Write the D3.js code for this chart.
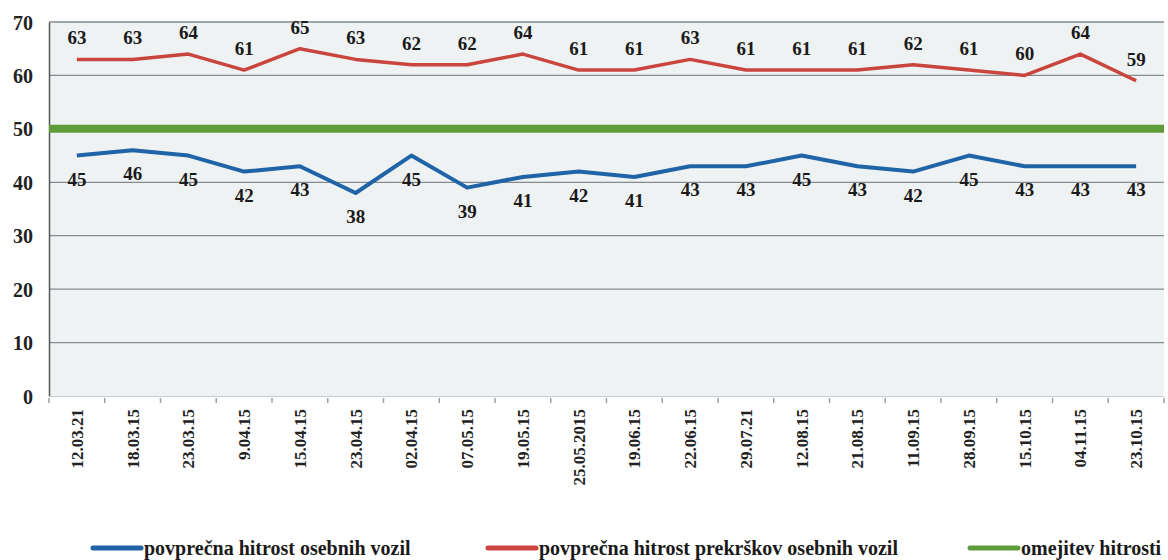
<!DOCTYPE html>
<html>
<head>
<meta charset="utf-8">
<script src="https://cdn.jsdelivr.net/npm/d3@7"></script>
<style>
  body { margin: 0; background: #fff; }
  svg { display: block; font-family: "Liberation Serif", "DejaVu Serif", serif; }
</style>
</head>
<body>
<svg id="chart"></svg>
<script>
// data
const dates = ["12.03.21", "18.03.15", "23.03.15", "9.04.15", "15.04.15", "23.04.15", "02.04.15",
  "07.05.15", "19.05.15", "25.05.2015", "19.06.15", "22.06.15", "29.07.21", "12.08.15",
  "21.08.15", "11.09.15", "28.09.15", "15.10.15", "04.11.15", "23.10.15"];
const avgSpeed = [45, 46, 45, 42, 43, 38, 45, 39, 41, 42, 41, 43, 43, 45, 43, 42, 45, 43, 43, 43];
const avgOffence = [63, 63, 64, 61, 65, 63, 62, 62, 64, 61, 61, 63, 61, 61, 61, 62, 61, 60, 64, 59];
const speedLimit = dates.map(() => 50);
const yTicks = [0, 10, 20, 30, 40, 50, 60, 70];
const seriesNames = ["povprečna hitrost osebnih vozil", "povprečna hitrost prekrškov osebnih vozil", "omejitev hitrosti"];

/***********************
 * dimensions
 ************************/
let dimensions = {
  width: 1168,
  height: 560,
  margin: { top: 22, right: 4, bottom: 164, left: 49 },
};
dimensions.boundedWidth = dimensions.width - dimensions.margin.left - dimensions.margin.right;
dimensions.boundedHeight = dimensions.height - dimensions.margin.top - dimensions.margin.bottom;

const svg = d3.select("#chart")
  .attr("width", dimensions.width)
  .attr("height", dimensions.height);

const bounds = svg.append("g")
  .attr("transform", `translate(${dimensions.margin.left},${dimensions.margin.top})`);

/***********************
 * scales
 ************************/
const x = d3.scaleBand().domain(dates).range([0, dimensions.boundedWidth]);
const y = d3.scaleLinear().domain([0, 70]).range([dimensions.boundedHeight, 0]);
const cx = (d) => x(d) + x.bandwidth() / 2;

// plot background (scanned, slightly tinted)
bounds.append("rect")
  .attr("width", dimensions.boundedWidth)
  .attr("height", dimensions.boundedHeight)
  .attr("fill", "#eff2f3");

// gridlines
bounds.append("g")
  .selectAll("line")
  .data(yTicks.filter((d) => d > 0))
  .join("line")
  .attr("x1", 0)
  .attr("x2", dimensions.boundedWidth)
  .attr("y1", (d) => y(d))
  .attr("y2", (d) => y(d))
  .attr("stroke", "#868b90")
  .attr("stroke-width", 1.3);

// y axis
const yAxis = bounds.append("g")
  .call(d3.axisLeft(y).tickValues(yTicks).tickSize(0).tickPadding(16));
yAxis.select(".domain").attr("stroke", "#555").attr("stroke-width", 1.5);
yAxis.selectAll("text")
  .attr("font-family", "Liberation Serif")
  .attr("font-weight", "bold")
  .attr("font-size", 20)
  .attr("fill", "#222")
  .attr("dy", "0.35em");

// x axis
const xAxis = bounds.append("g")
  .attr("transform", `translate(0,${dimensions.boundedHeight})`)
  .call(d3.axisBottom(x).tickSize(0).tickPadding(14));
xAxis.select(".domain").attr("stroke", "#c8ccd0").attr("stroke-width", 1);
xAxis.selectAll("text")
  .attr("font-family", "Liberation Serif")
  .attr("font-weight", "bold")
  .attr("font-size", 17)
  .attr("fill", "#222")
  .attr("transform", "rotate(-90)")
  .attr("text-anchor", "end")
  .attr("x", -13)
  .attr("y", 0)
  .attr("dy", "0.35em");

// small tick marks between categories
bounds.append("g")
  .selectAll("line")
  .data(d3.range(dates.length + 1))
  .join("line")
  .attr("x1", (i) => i * x.step())
  .attr("x2", (i) => i * x.step())
  .attr("y1", dimensions.boundedHeight + 2)
  .attr("y2", dimensions.boundedHeight + 7)
  .attr("stroke", "#9aa0a6")
  .attr("stroke-width", 1.5);

/***********************
 * lines
 ************************/
const colors = ["#1f64a6", "#c9453d", "#5f9c3a"];
const lineGen = d3.line().x((d, i) => cx(dates[i])).y((d) => y(d));

// speed limit spans the whole plot width
bounds.append("line")
  .attr("x1", 0)
  .attr("x2", dimensions.boundedWidth)
  .attr("y1", y(speedLimit[0]))
  .attr("y2", y(speedLimit[speedLimit.length - 1]))
  .attr("stroke", colors[2])
  .attr("stroke-width", 8);

bounds.append("path")
  .datum(avgOffence)
  .attr("d", lineGen)
  .attr("fill", "none")
  .attr("stroke", colors[1])
  .attr("stroke-width", 3.5)
  .attr("stroke-linejoin", "round");

bounds.append("path")
  .datum(avgSpeed)
  .attr("d", lineGen)
  .attr("fill", "none")
  .attr("stroke", colors[0])
  .attr("stroke-width", 4)
  .attr("stroke-linejoin", "round");

// data labels
const labelStyle = (sel) => sel
  .attr("font-family", "Liberation Serif")
  .attr("font-weight", "bold")
  .attr("font-size", 19)
  .attr("fill", "#1a1a1a")
  .attr("text-anchor", "middle");

bounds.append("g")
  .selectAll("text")
  .data(avgOffence)
  .join("text")
  .attr("x", (d, i) => cx(dates[i]))
  .attr("y", (d) => y(d) - 15)
  .text((d) => d)
  .call(labelStyle);

bounds.append("g")
  .selectAll("text")
  .data(avgSpeed)
  .join("text")
  .attr("x", (d, i) => cx(dates[i]))
  .attr("y", (d) => y(d) + 30)
  .text((d) => d)
  .call(labelStyle);

/***********************
 * legend
 ************************/
const legendX = [93, 488, 970];
const legend = svg.append("g")
  .selectAll("g")
  .data(seriesNames)
  .join("g")
  .attr("transform", (d, i) => `translate(${legendX[i]},548)`);

legend.append("line")
  .attr("x1", 0)
  .attr("x2", 48)
  .attr("stroke", (d, i) => colors[i])
  .attr("stroke-width", 5)
  .attr("stroke-linecap", "round");

legend.append("text")
  .attr("x", 51)
  .attr("dy", "0.35em")
  .attr("font-family", "Liberation Serif")
  .attr("font-weight", "bold")
  .attr("font-size", 20)
  .attr("fill", "#1a1a1a")
  .text((d) => d);
</script>
</body>
</html>
